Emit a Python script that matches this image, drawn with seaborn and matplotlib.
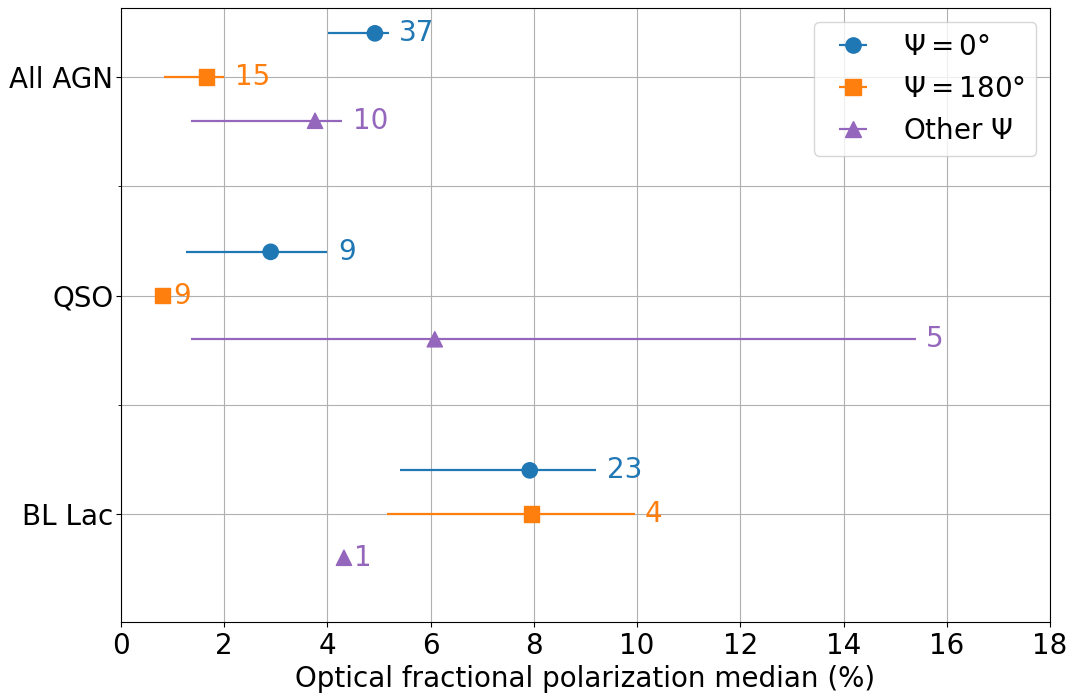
import numpy as np
import pandas as pd
import matplotlib
matplotlib.use("Agg")
import matplotlib.pyplot as plt
import seaborn as sns

# Source classes (top to bottom)
categories = ["All AGN", "QSO", "BL Lac"]

# Median optical fractional polarization (%) and its interval, per EVPA offset group
median_psi0 = [4.92, 2.90, 7.92]
low_psi0 = [4.01, 1.26, 5.41]
high_psi0 = [5.19, 4.00, 9.21]
count_psi0 = [37, 9, 23]

median_psi180 = [1.65, 0.81, 7.95]
low_psi180 = [0.83, 0.81, 5.16]
high_psi180 = [2.00, 0.81, 9.95]
count_psi180 = [15, 9, 4]

median_other = [3.76, 6.08, 4.32]
low_other = [1.36, 1.36, 4.32]
high_other = [4.29, 15.40, 4.32]
count_other = [10, 5, 1]

group_labels = [r"$\Psi = 0\degree$", r"$\Psi = 180\degree$", r"Other $\Psi$"]

sns.set_style("ticks", rc={
    "axes.edgecolor": "black",
    "axes.labelcolor": "black",
    "xtick.color": "black",
    "ytick.color": "black",
    "text.color": "black",
})
plt.rcParams["font.family"] = ["DejaVu Sans"]
plt.rcParams["mathtext.fontset"] = "dejavusans"

FS = 20

groups = [
    (group_labels[0], median_psi0, low_psi0, high_psi0, count_psi0, "#1f77b4", "o", 0.2),
    (group_labels[1], median_psi180, low_psi180, high_psi180, count_psi180, "#ff7f0e", "s", 0.0),
    (group_labels[2], median_other, low_other, high_other, count_other, "#9467bd", "^", -0.2),
]

rows = []
for label, med, lo, hi, cnt, color, marker, off in groups:
    for i, cat in enumerate(categories):
        rows.append({
            "group": label, "category": cat, "median": med[i],
            "low": lo[i], "high": hi[i], "n": cnt[i],
            "y": (len(categories) - 1 - i) + off,
        })
df = pd.DataFrame(rows)

fig = plt.figure(figsize=(10.79, 6.93), dpi=100)
ax = fig.add_axes([121 / 1079, 1 - 622 / 693, (1050 - 121) / 1079, (622 - 8) / 693])

palette = {g[0]: g[5] for g in groups}
markers = {g[0]: g[6] for g in groups}

# Interval bars, with legend handles drawn in errorbar style
for label, med, lo, hi, cnt, color, marker, off in groups:
    sub = df[df["group"] == label]
    xerr = np.vstack([sub["median"] - sub["low"], sub["high"] - sub["median"]])
    ax.errorbar(sub["median"], sub["y"], xerr=xerr, fmt="none", ecolor=color,
                elinewidth=1.6, zorder=2)
    ax.errorbar([np.nan], [np.nan], xerr=[[np.nan], [np.nan]], fmt=marker,
                color=color, markersize=11, elinewidth=1.6, label=label)
    for _, r in sub.iterrows():
        ax.text(r["high"] + 0.2, r["y"], f"{int(r['n'])}", color=color,
                fontsize=FS, va="center", ha="left")

sns.scatterplot(data=df, x="median", y="y", hue="group", style="group",
                palette=palette, markers=markers, s=121, linewidth=1,
                edgecolor="face", legend=False, ax=ax, zorder=3)

ax.set_xlim(0, 18)
ax.set_xticks(np.arange(0, 19, 2))
ax.set_ylim(-0.494, 2.316)
ax.set_yticks([2, 1, 0])
ax.set_yticklabels(categories)
ax.set_yticks([0.5, 1.5], minor=True)
ax.tick_params(axis="both", which="major", labelsize=FS, length=3.5, width=0.8)
ax.tick_params(axis="y", which="major", pad=2)
ax.tick_params(axis="y", which="minor", length=2, width=0.6)
ax.grid(True, which="both", color="#b0b0b0", linewidth=0.8)
ax.set_axisbelow(True)
for s in ax.spines.values():
    s.set_linewidth(0.8)
    s.set_visible(True)

ax.set_xlabel("Optical fractional polarization median (%)", fontsize=FS)
ax.set_ylabel("")
ax.legend(loc="upper right", fontsize=FS, frameon=True, framealpha=0.8,
          edgecolor="#cccccc", fancybox=True)

fig.savefig("out.png", dpi=100)
